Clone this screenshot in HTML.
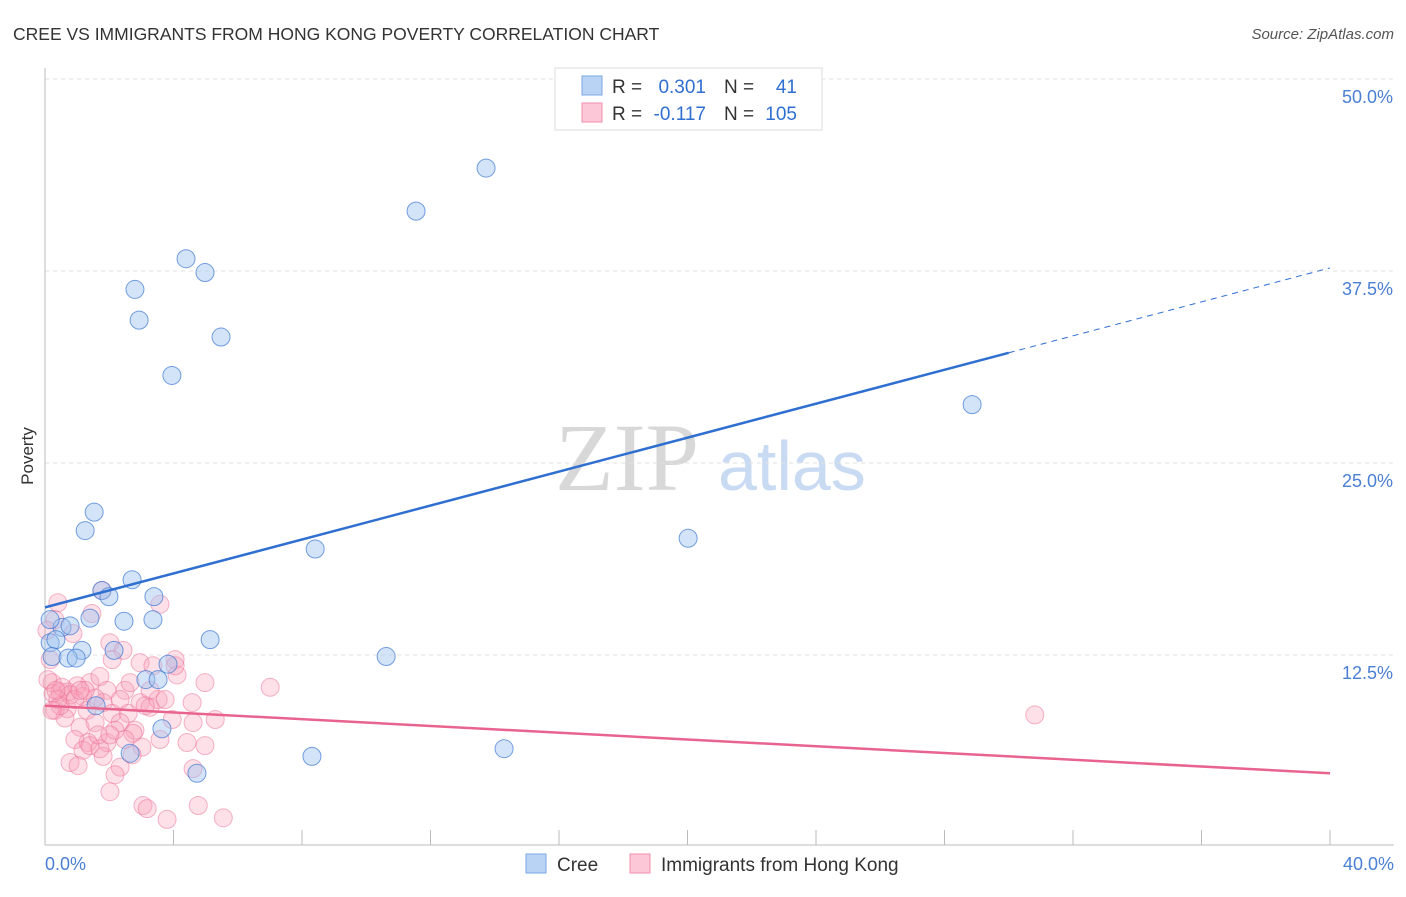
<!DOCTYPE html>
<html><head><meta charset="utf-8"><style>
body{margin:0;background:#fff;font-family:"Liberation Sans",sans-serif;}
</style></head><body>
<svg width="1406" height="892" viewBox="0 0 1406 892" xmlns="http://www.w3.org/2000/svg">
<text x="13" y="40" font-size="17.5" fill="#333">CREE VS IMMIGRANTS FROM HONG KONG POVERTY CORRELATION CHART</text>
<text x="1394" y="39" font-size="15" fill="#555" font-style="italic" text-anchor="end">Source: ZipAtlas.com</text>
<text x="555" y="490" font-size="96" fill="#d8d8d8" font-family="Liberation Serif,serif">ZIP</text>
<text x="718" y="490" font-size="70" fill="#c9daf3">atlas</text>
<g id="grid"></g>
<g id="pts"></g>
<g id="lines"></g>
<text transform="translate(33,456) rotate(-90)" font-size="17" fill="#333" text-anchor="middle">Poverty</text>
<text x="45" y="870" font-size="18" fill="#4a7fd4">0.0%</text>
<text x="1394" y="870" font-size="18" fill="#4a7fd4" text-anchor="end">40.0%</text>
<g>
<rect x="555" y="68" width="267" height="62" fill="#fff" stroke="#ddd"/>
<rect x="582" y="76" width="20" height="19" fill="#b9d3f5" stroke="#7aa7e6"/>
<rect x="582" y="103" width="20" height="19" fill="#fcc7d6" stroke="#f08fae"/>
<text x="612" y="93" font-size="19" fill="#333">R =</text>
<text x="706" y="93" font-size="19" fill="#2f6fd0" text-anchor="end">0.301</text>
<text x="724" y="93" font-size="19" fill="#333">N =</text>
<text x="797" y="93" font-size="19" fill="#2f6fd0" text-anchor="end">41</text>
<text x="612" y="120" font-size="19" fill="#333">R =</text>
<text x="706" y="120" font-size="19" fill="#2f6fd0" text-anchor="end">-0.117</text>
<text x="724" y="120" font-size="19" fill="#333">N =</text>
<text x="797" y="120" font-size="19" fill="#2f6fd0" text-anchor="end">105</text>
</g>
<g>
<rect x="526" y="854" width="20" height="19" fill="#b9d3f5" stroke="#7aa7e6"/>
<text x="557" y="871" font-size="19" fill="#333">Cree</text>
<rect x="630" y="854" width="20" height="19" fill="#fcc7d6" stroke="#f08fae"/>
<text x="661" y="871" font-size="19" fill="#333">Immigrants from Hong Kong</text>
</g>
</svg>
<script>
const yTicks=[12.5,25,37.5,50];
const yTickLabels=["12.5%","25.0%","37.5%","50.0%"];
const creeX=[13.73,11.55,4.39,4.98,2.80,2.93,5.48,3.95,28.86,1.53,1.25,20.02,8.41,2.71,1.77,1.99,3.39,1.40,2.46,3.36,0.53,0.78,0.16,0.34,5.14,1.15,0.22,0.72,0.97,2.15,10.62,3.83,3.14,3.52,3.64,1.59,14.29,2.65,8.31,4.73,0.16];
const creeY=[44.2,41.4,38.3,37.4,36.3,34.3,33.2,30.7,28.8,21.8,20.6,20.1,19.4,17.4,16.7,16.3,16.3,14.9,14.7,14.8,14.3,14.4,13.3,13.5,13.5,12.8,12.4,12.3,12.3,12.8,12.4,11.9,10.9,10.9,7.7,9.2,6.4,6.1,5.9,4.8,14.8];
const hkX=[0.40,1.46,0.31,0.87,2.02,2.43,2.09,2.96,3.36,4.05,4.11,4.98,7.01,0.22,0.25,0.47,0.72,1.00,1.40,1.71,1.93,2.49,2.65,0.31,0.69,1.18,1.31,1.81,2.09,2.34,2.59,2.96,3.27,3.52,4.58,1.09,1.56,2.34,2.80,4.61,5.30,0.93,1.34,1.93,1.18,2.74,3.02,1.81,2.34,0.78,1.03,4.42,4.98,4.61,2.02,3.05,3.18,3.80,4.77,5.55,30.81,1.78,3.58,0.06,0.16,0.09,0.53,0.78,0.40,0.62,0.93,1.56,2.18,1.40,1.71,2.49,3.27,3.74,0.47,1.25,4.05,3.12,1.65,2.02,2.71,2.18,3.96,0.34,0.22,1.09,3.58];
const hkY=[15.9,15.2,14.8,13.9,13.3,12.8,12.2,12.0,11.8,12.2,11.2,10.7,10.4,10.7,10.0,10.1,10.1,10.5,10.7,11.1,10.2,10.2,10.7,8.9,9.0,9.8,8.9,9.4,8.7,9.6,8.7,9.4,9.1,9.6,9.4,7.8,8.1,8.1,7.6,8.1,8.3,7.0,6.8,6.8,6.3,7.4,6.5,5.9,5.2,5.5,5.3,6.8,6.6,5.1,3.6,2.7,2.5,1.8,2.7,1.9,8.6,16.7,15.8,14.1,12.2,10.9,10.4,9.9,9.6,8.4,9.6,9.7,7.6,6.6,6.4,7.0,10.2,9.6,9.2,10.2,11.8,9.2,7.3,7.3,6.0,4.7,8.3,10.2,8.9,10.2,7.0];
const creeTrend=[15.6,37.7];
const hkTrend=[9.2,4.8];
const NS="http://www.w3.org/2000/svg";
const X0=45,X1=1330,Y0=847,YPX=192/12.5;
const sx=v=>X0+(v/40)*(X1-X0);
const sy=v=>Y0-v*YPX;
function mk(t,a,p){const e=document.createElementNS(NS,t);for(const k in a)e.setAttribute(k,a[k]);p.appendChild(e);return e;}
const g=document.getElementById('grid');
yTicks.forEach((t,i)=>{
 const l=mk('line',{x1:45,x2:1394,y1:sy(t),y2:sy(t),stroke:'#e2e2e2','stroke-dasharray':'4,4'},g);
 
 
 const tx=mk('text',{x:1393,y:sy(t)+24,'font-size':18,fill:'#4a7fd4','text-anchor':'end'},g);
 tx.textContent=yTickLabels[i];
 
 
});
const ax=mk('line',{x1:45,x2:45,y1:68,y2:845,stroke:'#bbb'},g);


const bx=mk('line',{x1:45,x2:1394,y1:845,y2:845,stroke:'#bbb'},g);


for(let i=1;i<=10;i++){const t=mk('line',{x1:sx(i*4),x2:sx(i*4),y1:830,y2:845,stroke:'#bbb'},g);
 
 }
const p=document.getElementById('pts');
hkX.forEach((x,i)=>{const c=mk('circle',{cx:sx(x),cy:sy(hkY[i]),r:9,fill:'rgba(248,160,185,0.33)',stroke:'rgba(236,110,150,0.5)','stroke-width':1},p);
 
 });
creeX.forEach((x,i)=>{const c=mk('circle',{cx:sx(x),cy:sy(creeY[i]),r:9,fill:'rgba(160,195,240,0.45)',stroke:'rgba(60,120,210,0.7)','stroke-width':1},p);
 
 });
const L=document.getElementById('lines');
const cy=x=>creeTrend[0]+(creeTrend[1]-creeTrend[0])*x/40;
const a=mk('line',{x1:sx(0),y1:sy(cy(0)),x2:sx(30),y2:sy(cy(30)),stroke:'#2f6fd0','stroke-width':2.5},L);


const b=mk('line',{x1:sx(30),y1:sy(cy(30)),x2:sx(40),y2:sy(cy(40)),stroke:'#2f6fd0','stroke-width':1,'stroke-dasharray':'6,5'},L);


const h=mk('line',{x1:sx(0),y1:sy(hkTrend[0]),x2:sx(40),y2:sy(hkTrend[1]),stroke:'#e8648e','stroke-width':2.5},L);


</script>
</body></html>
